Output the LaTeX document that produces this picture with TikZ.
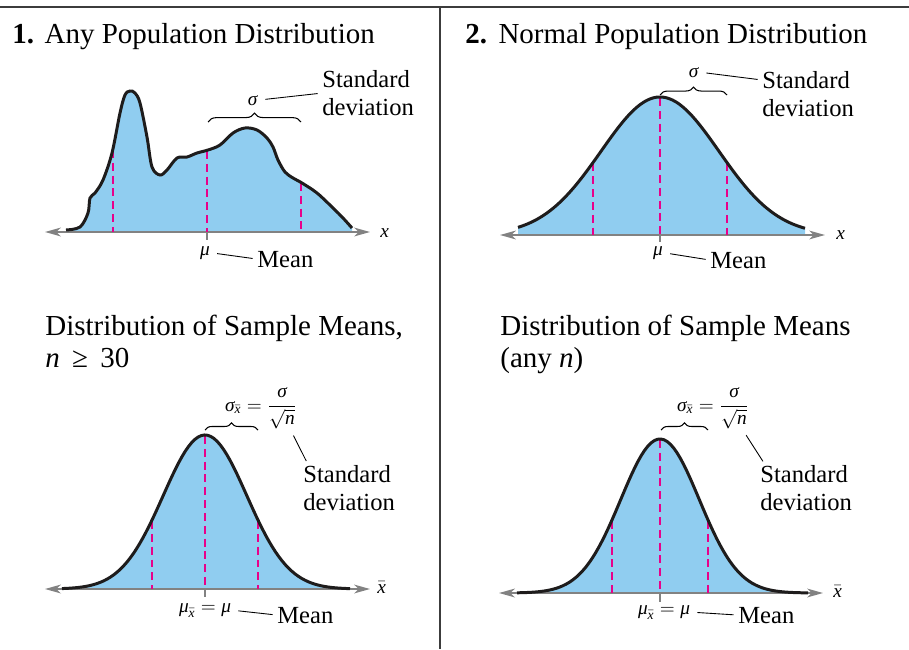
\documentclass[tikz,border=0pt]{standalone}
\usepackage{amsmath,amssymb}
\usepackage{fontspec}
\setmainfont{Liberation Serif}
\usetikzlibrary{arrows.meta,decorations.pathreplacing}

\definecolor{bellfill}{RGB}{144,205,240}
\definecolor{sdpink}{RGB}{232,0,138}
\definecolor{axisgray}{RGB}{130,130,130}
\definecolor{framegray}{RGB}{60,60,60}
\definecolor{curveblack}{RGB}{30,28,28}

\tikzset{
  frameline/.style={framegray, line width=0.9pt},
  axisline/.style={axisgray, line width=1.1pt,
    {Stealth[length=9pt,width=5pt,inset=2.5pt]}-{Stealth[length=9pt,width=5pt,inset=2.5pt]}},
  curveline/.style={curveblack, line width=1.7pt},
  sdmark/.style={sdpink, line width=1pt, dash pattern=on 4.5pt off 2.8pt},
  meantick/.style={axisgray, line width=0.8pt},
  bracemark/.style={decorate, decoration={brace, amplitude=#1}, line width=0.6pt},
  leader/.style={line width=0.5pt, shorten <=4pt, shorten >=2.5pt},
  titletext/.style={font=\fontsize{16.5}{18}\selectfont, align=left, inner sep=0pt},
  labeltext/.style={font=\fontsize{14}{16}\selectfont, align=left, inner sep=0pt},
  symtext/.style={font=\fontsize{11}{12}\selectfont, inner sep=0pt},
  declare function={gz(\t)=exp(-0.5*\t*\t);}
}

\begin{document}
\begin{tikzpicture}[x=0.02cm,y=-0.02cm]
\useasboundingbox (0,0) rectangle (909,649);

%==================== 外框 ====================
\draw[frameline] (0,7) -- (909,7);
\draw[frameline] (440,7) -- (440,649);

%==================== 1. 任意总体 ====================
\node[titletext, anchor=base west] (title1) at (12,43)
  {\textbf{1.}\hspace{6pt}Any Population Distribution};

\fill[bellfill] plot[smooth, tension=0.55] coordinates {
  (66,230) (80,227) (88,213) (90,198) (95,193) (103,180) (112,153) (120,113)
  (125,95) (130,91) (135,93) (140,103) (147,137) (152,167) (160,175) (167,170)
  (177,158) (187,157) (197,153) (208,150) (220,145) (233,133) (245,128) (257,130)
  (267,138) (273,147) (278,160) (285,172) (293,178) (302,183) (317,193) (333,208)
  (343,218) (352,228)} -- (352,232) -- (66,232) -- cycle;

\coordinate (ax1l) at (45,232);
\coordinate (ax1r) at (370,232);
\draw[axisline] (ax1l) -- (ax1r);

% 标准差位置
\foreach \x/\y in {113/150, 207/151, 301/183}
{
    \draw[sdmark] (\x,\y) -- (\x,232);
}
\draw[meantick] (207,232) -- (207,240);

\draw[curveline] plot[smooth, tension=0.55] coordinates {
  (66,230) (80,227) (88,213) (90,198) (95,193) (103,180) (112,153) (120,113)
  (125,95) (130,91) (135,93) (140,103) (147,137) (152,167) (160,175) (167,170)
  (177,158) (187,157) (197,153) (208,150) (220,145) (233,133) (245,128) (257,130)
  (267,138) (273,147) (278,160) (285,172) (293,178) (302,183) (317,193) (333,208)
  (343,218) (352,228)};

\draw[bracemark=5pt] (208,122) -- (301,122);
\node[symtext, anchor=base] (sig1) at (253,105) {\textit{σ}};
\node[labeltext, anchor=north west] (sd1) at (322,70) {Standard\\deviation};
\draw[leader] (sig1.east) -- (sd1.west);

\node[symtext, anchor=base] (mu1) at (205,255) {\textit{μ}};
\node[labeltext, anchor=base west] (mean1) at (257,267) {Mean};
\draw[leader] (mu1.east) -- (mean1.west);
\node[symtext, anchor=base west] (xlab1) at (380,237) {\textit{x}};

%==================== 2. 正态总体 ====================
\node[titletext, anchor=base west] (title2) at (465,43)
  {\textbf{2.}\hspace{6.5pt}Normal Population Distribution};

\fill[bellfill] (518,235) -- plot[domain=518:805, samples=90]
  (\x,{235-138*gz((\x-660)/59)}) -- (805,235) -- cycle;

\coordinate (ax2l) at (500,235);
\coordinate (ax2r) at (825,235);
\draw[axisline] (ax2l) -- (ax2r);

\foreach \x in {593,660,727}
{
    \draw[sdmark] (\x,{235-138*gz((\x-660)/59)+1}) -- (\x,235);
}
\draw[meantick] (660,235) -- (660,242);

\draw[curveline] plot[domain=518:805, samples=90] (\x,{235-138*gz((\x-660)/59)});

\draw[bracemark=4.5pt] (660,95) -- (727,95);
\node[symtext, anchor=base] (sig2) at (694,77) {\textit{σ}};
\node[labeltext, anchor=north west] (sd2) at (762,71) {Standard\\deviation};
\draw[leader] (sig2.east) -- ([yshift=8pt]sd2.west);

\node[symtext, anchor=base] (mu2) at (658,255) {\textit{μ}};
\node[labeltext, anchor=base west] (mean2) at (710,268) {Mean};
\draw[leader] (mu2.east) -- (mean2.west);
\node[symtext, anchor=base west] (xlab2) at (836,239) {\textit{x}};

%==================== 样本均值分布, n >= 30 ====================
\node[titletext, anchor=north west] (title3) at (45,315)
  {Distribution of Sample Means,\\\textit{n}\hspace{7pt}≥\hspace{7pt}30};

\fill[bellfill] (62,589) -- plot[domain=62:350, samples=90]
  (\x,{589-154*gz((\x-205)/41.8)}) -- (350,589) -- cycle;

\coordinate (ax3l) at (45,589);
\coordinate (ax3r) at (370,589);
\draw[axisline] (ax3l) -- (ax3r);

\foreach \x in {152,205,258}
{
    \draw[sdmark] (\x,{589-154*gz((\x-205)/41.8)+1}) -- (\x,589);
}
\draw[meantick] (205,589) -- (205,597);

\draw[curveline] plot[domain=62:350, samples=90] (\x,{589-154*gz((\x-205)/41.8)});

\draw[bracemark=4pt] (205,430) -- (258,430);
\node[symtext, anchor=base] (sig3) at (261,411)
  {$\textit{σ}_{\bar{\textit{x}}} = \dfrac{\textit{σ}}{\sqrt{\textit{n}}}$};
\node[labeltext, anchor=north west] (sd3) at (303,465) {Standard\\deviation};
\draw[leader] ([xshift=-4pt]sig3.south east) -- ([xshift=3pt]sd3.north west);

\node[symtext, anchor=base] (mu3) at (205,612) {$\textit{μ}_{\bar{\textit{x}}} = \textit{μ}$};
\node[labeltext, anchor=base west] (mean3) at (277,623) {Mean};
\draw[leader] (mu3.east) -- (mean3.west);
\node[symtext, anchor=base west] (xlab3) at (377,593) {$\bar{\textit{x}}$};

%==================== 样本均值分布 (任意 n) ====================
\node[titletext, anchor=north west] (title4) at (500,315)
  {Distribution of Sample Means\\(any \textit{n})};

\fill[bellfill] (517,593) -- plot[domain=517:808, samples=90]
  (\x,{593-154*gz((\x-660)/39.3)}) -- (808,593) -- cycle;

\coordinate (ax4l) at (499,593);
\coordinate (ax4r) at (823,593);
\draw[axisline] (ax4l) -- (ax4r);

\foreach \x in {612,660,708}
{
    \draw[sdmark] (\x,{593-154*gz((\x-660)/39.3)+1}) -- (\x,593);
}
\draw[meantick] (660,593) -- (660,602);

\draw[curveline] plot[domain=517:808, samples=90] (\x,{593-154*gz((\x-660)/39.3)});

\draw[bracemark=4pt] (661,430) -- (708,430);
\node[symtext, anchor=base] (sig4) at (713,411)
  {$\textit{σ}_{\bar{\textit{x}}} = \dfrac{\textit{σ}}{\sqrt{\textit{n}}}$};
\node[labeltext, anchor=north west] (sd4) at (760,465) {Standard\\deviation};
\draw[leader] ([xshift=-4pt]sig4.south east) -- ([xshift=3pt]sd4.north west);

\node[symtext, anchor=base] (mu4) at (664,614) {$\textit{μ}_{\bar{\textit{x}}} = \textit{μ}$};
\node[labeltext, anchor=base west] (mean4) at (738,623) {Mean};
\draw[leader] (mu4.east) -- (mean4.west);
\node[symtext, anchor=base west] (xlab4) at (833,597) {$\bar{\textit{x}}$};

\end{tikzpicture}
\end{document}
